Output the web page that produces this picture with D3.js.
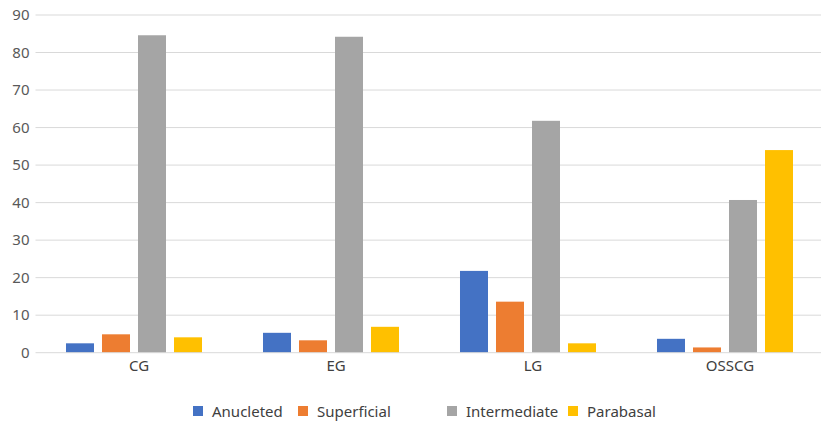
<!DOCTYPE html>
<html>
<head>
<meta charset="utf-8">
<script src="https://cdn.jsdelivr.net/npm/d3@7"></script>
<style>
  html, body { margin: 0; padding: 0; background: #fff; }
  svg { display: block; font-family: "Noto Sans", "Open Sans", sans-serif; }
</style>
</head>
<body>
<svg id="chart" width="821" height="425"></svg>
<script>
// Cell-type percentages per group
const groups = ["CG", "EG", "LG", "OSSCG"];
const series = ["Anucleted", "Superficial", "Intermediate", "Parabasal"];
const anucleted    = [2.5, 5.3, 21.8, 3.7];
const superficial  = [4.9, 3.3, 13.6, 1.4];
const intermediate = [84.6, 84.2, 61.8, 40.7];
const parabasal    = [4.1, 6.9, 2.5, 54.0];
const yTicks = [0, 10, 20, 30, 40, 50, 60, 70, 80, 90];
const colors = ["#4472C4", "#ED7D31", "#A5A5A5", "#FFC000"];

const values = [anucleted, superficial, intermediate, parabasal];
const rows = groups.map((g, gi) => ({
  group: g,
  items: series.map((s, si) => ({ series: s, value: values[si][gi], color: colors[si] }))
}));

const svg = d3.select("#chart");
const plotLeft = 35.5, plotRight = 823.5, plotTop = 15, plotBottom = 352.7;

const x = d3.scaleBand().domain(groups).range([plotLeft, plotRight]).padding(0);
const xs = d3.scaleBand().domain(series).range([0, x.bandwidth()])
  .paddingInner(8 / 36).paddingOuter(0.847);
const y = d3.scaleLinear().domain([0, 90]).range([plotBottom, plotTop]);

// Horizontal gridlines
svg.append("g")
  .selectAll("line")
  .data(yTicks.filter(t => t > 0))
  .join("line")
  .attr("x1", plotLeft).attr("x2", 821)
  .attr("y1", d => y(d)).attr("y2", d => y(d))
  .attr("stroke", "#d9d9d9").attr("stroke-width", 1);

// Y axis labels
const yAxis = d3.axisLeft(y).tickValues(yTicks).tickSize(0).tickPadding(5);
svg.append("g")
  .attr("transform", `translate(${plotLeft - 1},0)`)
  .call(yAxis)
  .call(g => g.select(".domain").remove())
  .call(g => g.selectAll("text")
    .attr("fill", "#595959")
    .style("font-size", "15px")
    .style("font-family", "\"Noto Sans\", sans-serif"));

// Bars
svg.append("g")
  .selectAll("g")
  .data(rows)
  .join("g")
  .attr("transform", d => `translate(${x(d.group)},0)`)
  .selectAll("rect")
  .data(d => d.items)
  .join("rect")
  .attr("x", d => xs(d.series))
  .attr("width", xs.bandwidth())
  .attr("y", d => y(d.value))
  .attr("height", d => y(0) - y(d.value))
  .attr("fill", d => d.color);

// Baseline
svg.append("line")
  .attr("x1", plotLeft).attr("x2", 821)
  .attr("y1", y(0)).attr("y2", y(0))
  .attr("stroke", "#d9d9d9").attr("stroke-width", 1);

// Category axis
const xAxis = d3.axisBottom(x).tickSize(0).tickPadding(8);
svg.append("g")
  .attr("transform", `translate(5,${y(0)})`)
  .call(xAxis)
  .call(g => g.select(".domain").remove())
  .call(g => g.selectAll("text")
    .attr("fill", "#404040")
    .style("font-size", "15px")
    .style("font-family", "\"Noto Sans\", sans-serif"));

// Legend
const legendX = [193, 298, 447, 568];
const legend = svg.append("g")
  .selectAll("g")
  .data(series)
  .join("g")
  .attr("transform", (d, i) => `translate(${legendX[i]},406)`);
legend.append("rect")
  .attr("width", 10).attr("height", 10)
  .attr("fill", (d, i) => colors[i]);
legend.append("text")
  .attr("x", 19).attr("y", 10.5)
  .attr("fill", "#404040")
  .style("font-size", "15px")
  .text(d => d);
</script>
</body>
</html>
